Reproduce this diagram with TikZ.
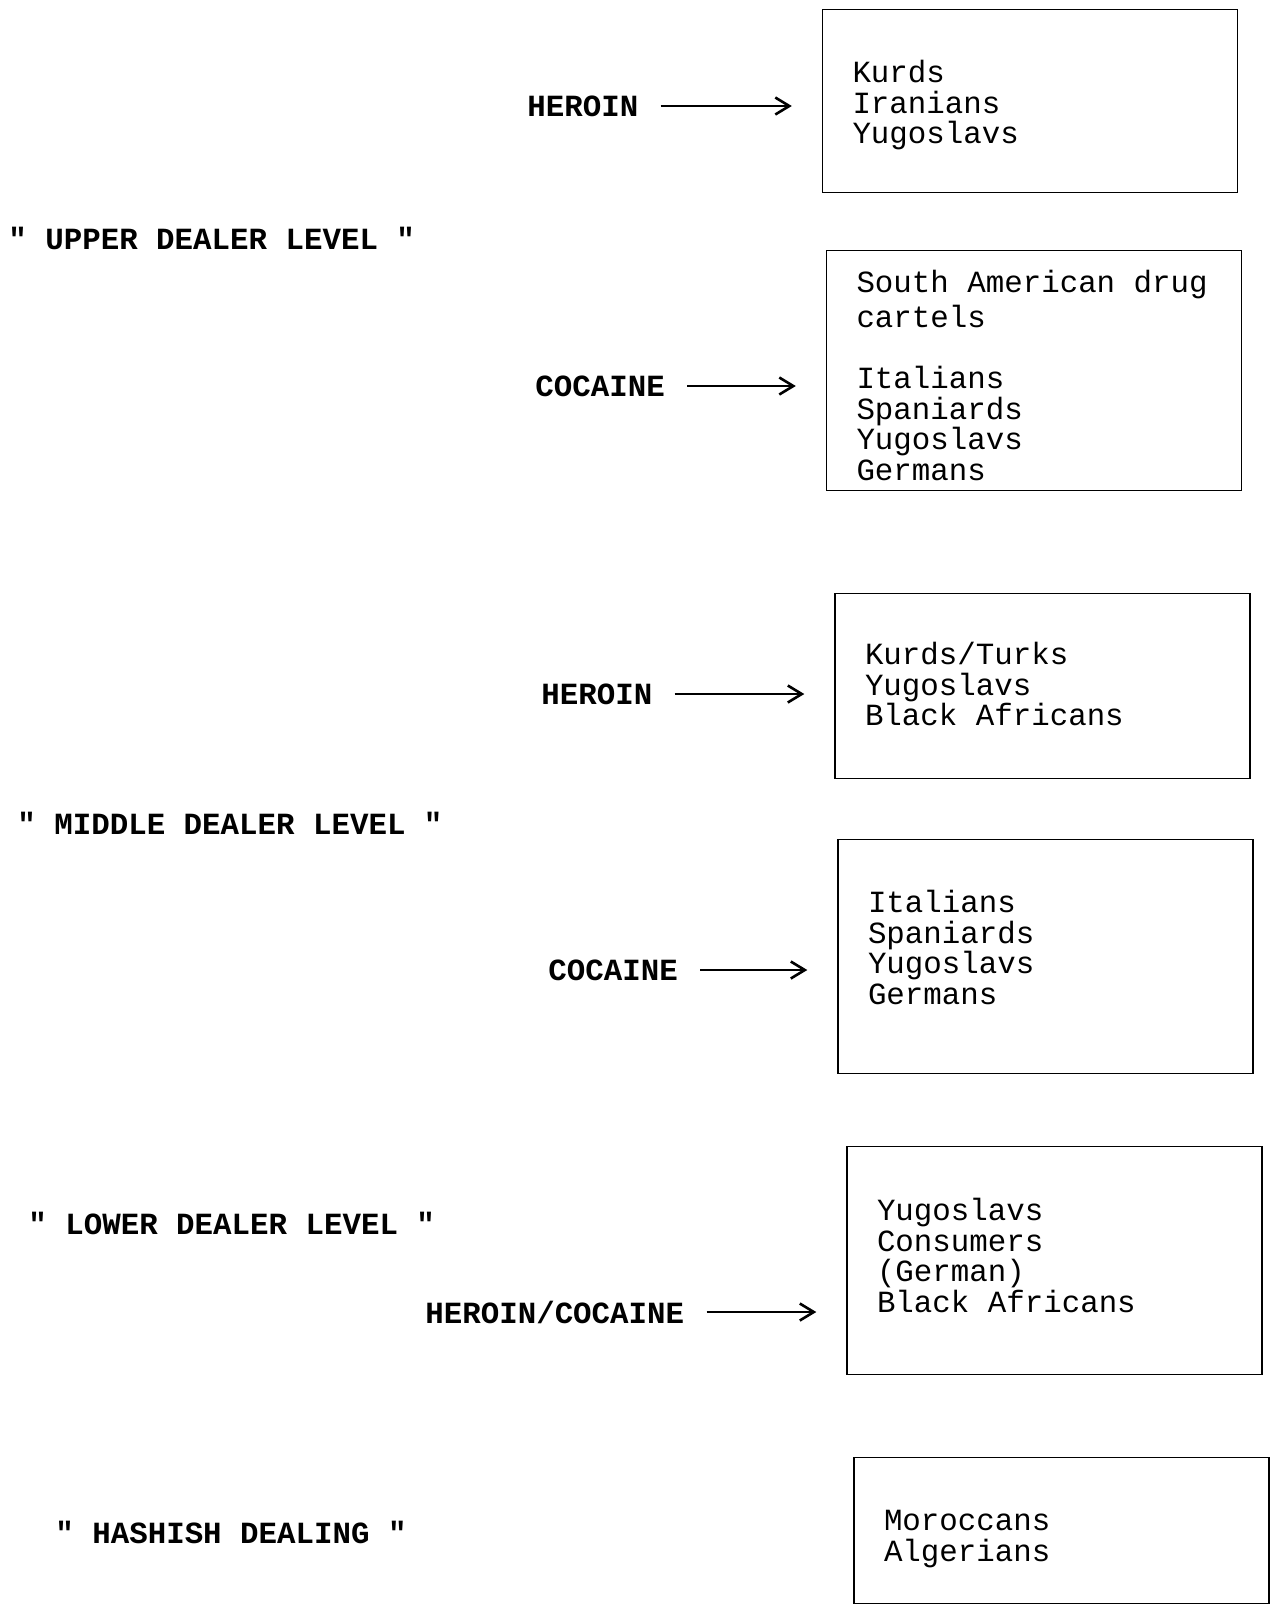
\documentclass[tikz,border=0pt]{standalone}
\usepackage{fontspec}
\usepackage{tikz}
\usetikzlibrary{arrows.meta,positioning}
\newfontfamily\typer[Ligatures=TeXOff]{Liberation Mono}
\newcommand\typesize{\fontsize{15.4}{15.3}\selectfont}
\newcommand\toppad[1]{\rule{0pt}{#1}}
\newcommand\botpad[1]{\rule[-#1]{0pt}{0pt}}

\begin{document}
\begin{tikzpicture}[x=0.5pt, y=-0.5pt,
  grp/.style={rectangle, draw, line width=0.7pt, anchor=north, inner xsep=15pt, inner ysep=0pt,
    text width=177.5pt, align=flush left, font=\typer\typesize,
    execute at begin node={\spaceskip=0.6em\xspaceskip=0.6em\relax}},
  drug/.style={anchor=west, inner sep=0pt, font=\typer\bfseries\typesize},
  lvl/.style={anchor=west, inner sep=0pt, font=\typer\bfseries\typesize},
  arr/.style={-{Straight Barb[length=7pt,width=8.5pt,line width=1.3pt]}, line width=0.8pt,
    shorten <=11pt, shorten >=15pt}]
\useasboundingbox (0,0) rectangle (1271,1613);
% groups
\node[grp] (k1) at (1030,9) {\toppad{36.5pt}Kurds\\ Iranians\\ Yugoslavs\botpad{24.3pt}};
\node[grp] (k2) at (1034,250) {\toppad{21pt}South American drug\\[2pt] cartels\\[15.3pt] Italians\\ Spaniards\\ Yugoslavs\\ Germans\botpad{5.2pt}};
\node[grp] (k3) at (1042.5,593) {\toppad{35.5pt}Kurds/Turks\\ Yugoslavs\\ Black Africans\botpad{26.4pt}};
\node[grp] (k4) at (1045.5,839) {\toppad{36.5pt}Italians\\ Spaniards\\ Yugoslavs\\ Germans\botpad{34.6pt}};
\node[grp] (k5) at (1054.5,1146) {\toppad{37pt}Yugoslavs\\ Consumers\\ (German)\\ Black Africans\botpad{31.1pt}};
\node[grp] (k6) at (1061.5,1457) {\toppad{36.5pt}Moroccans\\ Algerians\botpad{21.2pt}};
% drugs
\node[drug] (h1) at (527,106) {HEROIN};
\node[drug] (c1) at (535,386) {COCAINE};
\node[drug] (h2) at (541,694) {HEROIN};
\node[drug] (c2) at (548,970) {COCAINE};
\node[drug] (hc) at (425,1312) {HEROIN/COCAINE};
% levels
\node[lvl] (up) at (8,238) {" UPPER DEALER LEVEL "};
\node[lvl] (mid) at (17,823) {" MIDDLE DEALER LEVEL "};
\node[lvl] (low) at (28,1223) {" LOWER DEALER LEVEL "};
\node[lvl] (hash) at (55,1532) {" HASHISH DEALING "};
\foreach \a/\b in {h1/k1,c1/k2,h2/k3,c2/k4,hc/k5} \draw[arr] (\a.east) -- (\a.east -| \b.west);
\end{tikzpicture}
\end{document}
